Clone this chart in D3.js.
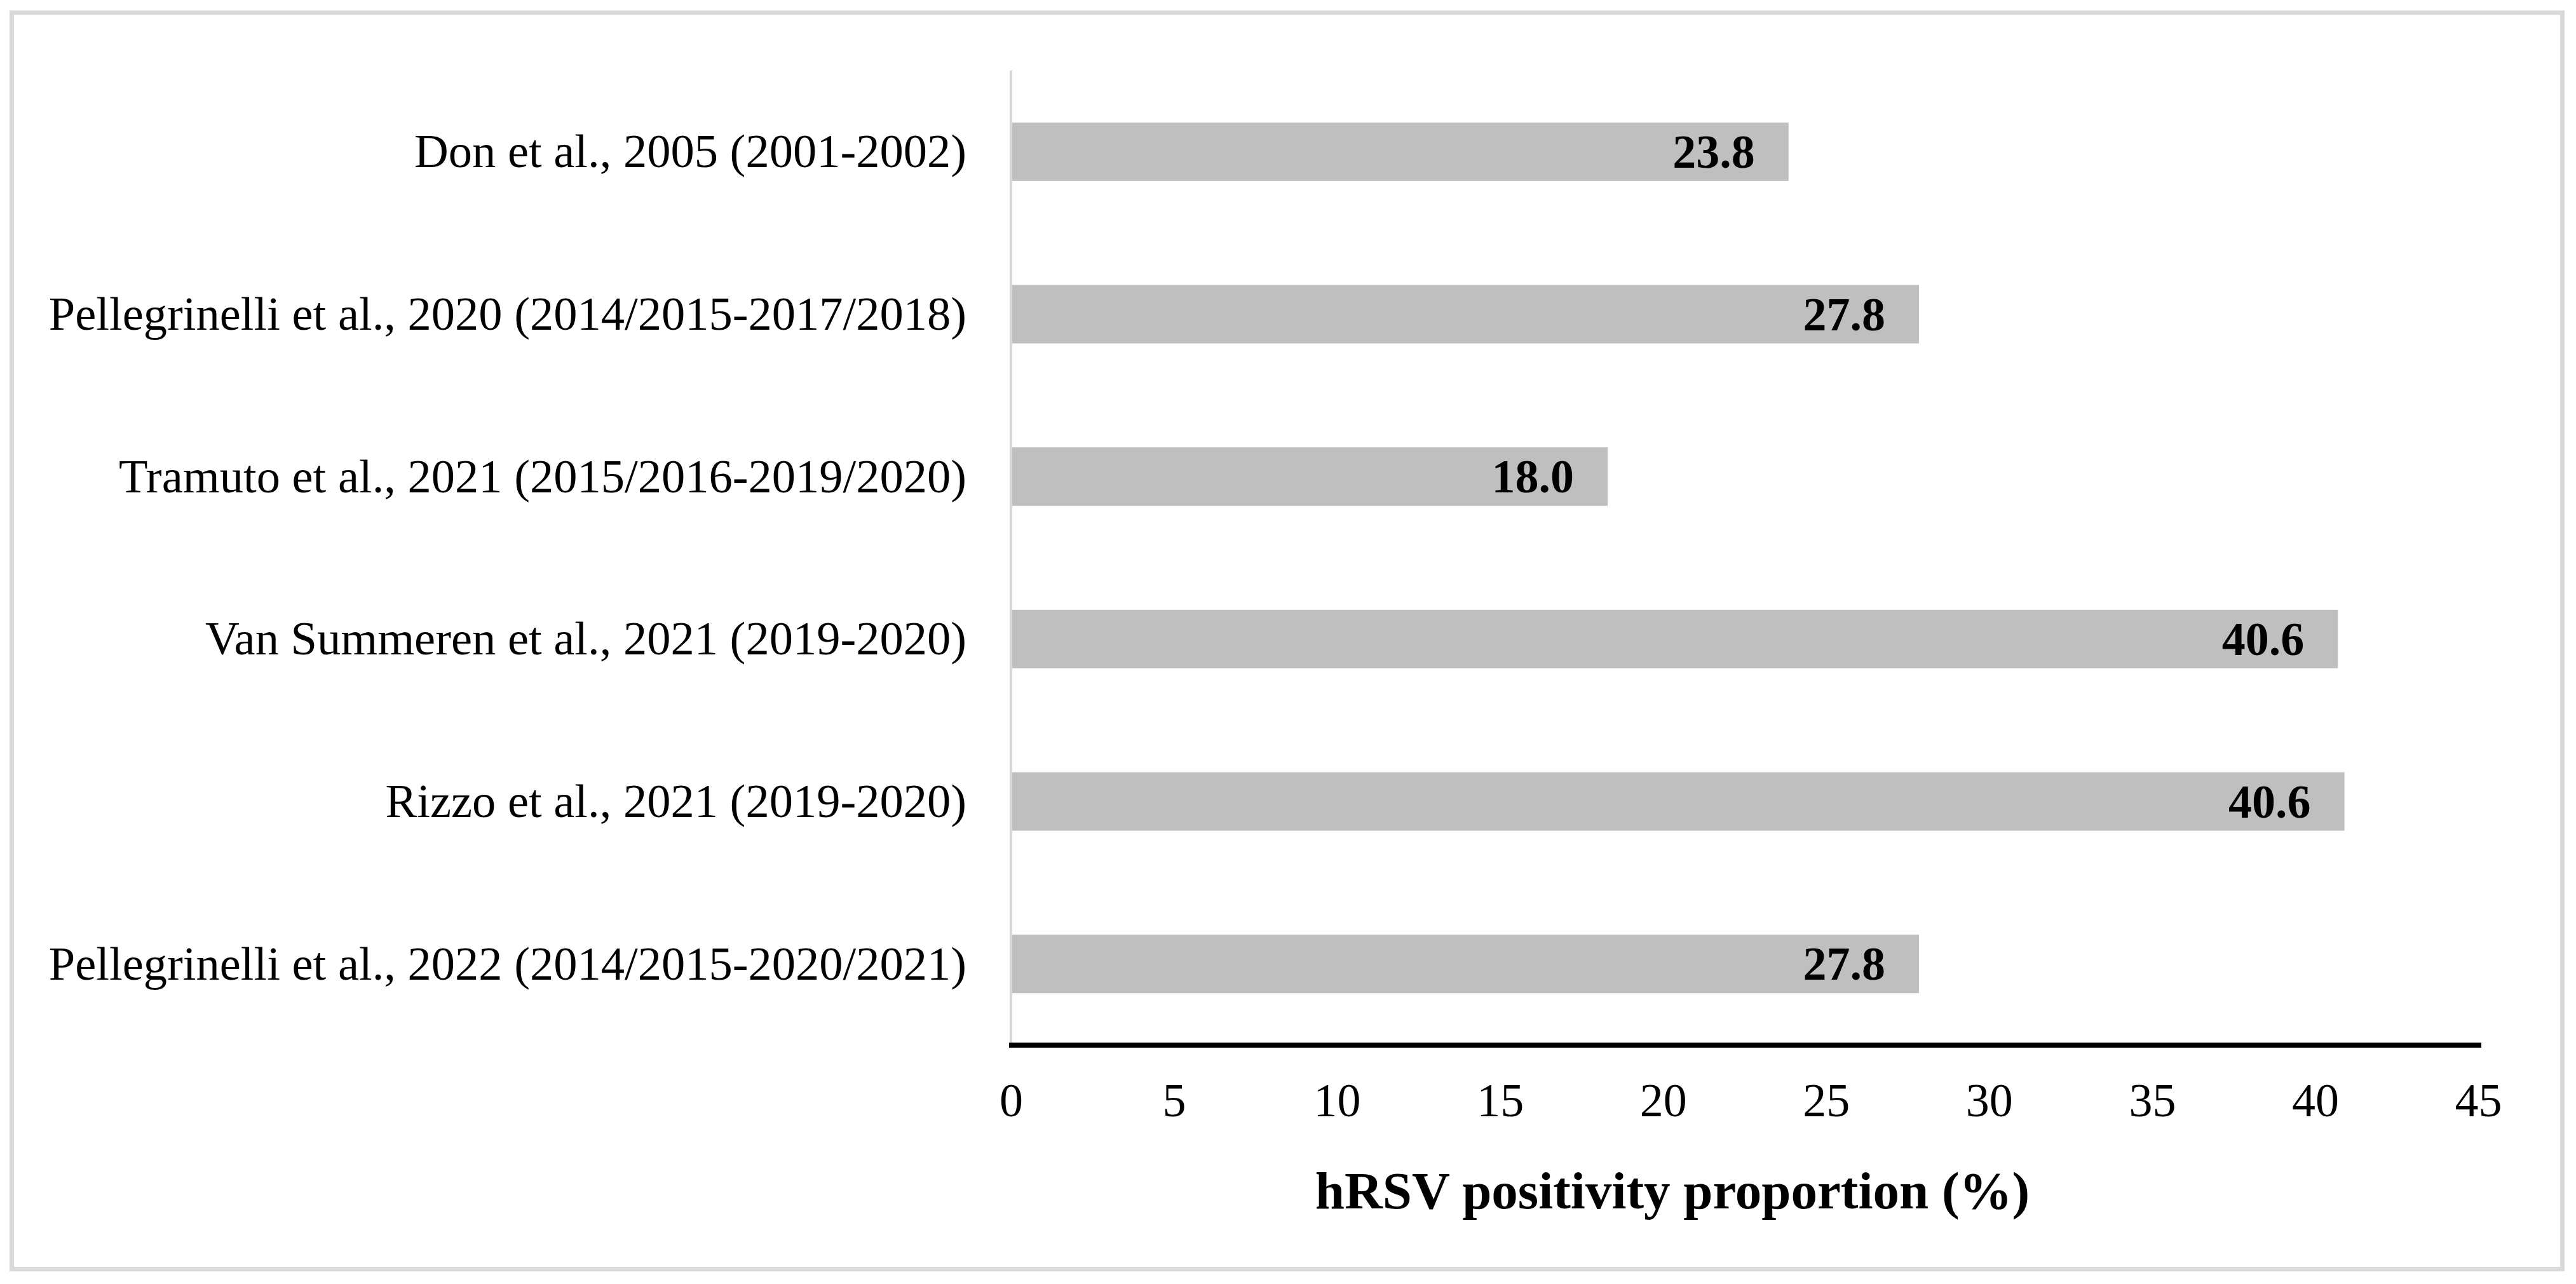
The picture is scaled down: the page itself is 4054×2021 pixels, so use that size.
<!DOCTYPE html>
<html>
<head>
<meta charset="utf-8">
<script src="https://cdn.jsdelivr.net/npm/d3@7"></script>
<style>
  html, body { margin: 0; padding: 0; background: #ffffff; }
  svg { display: block; }
</style>
</head>
<body>
<svg id="chart" width="4054" height="2021"></svg>
<script>
const categories = [
  "Don et al., 2005 (2001-2002)",
  "Pellegrinelli et al., 2020 (2014/2015-2017/2018)",
  "Tramuto et al., 2021 (2015/2016-2019/2020)",
  "Van Summeren et al., 2021 (2019-2020)",
  "Rizzo et al., 2021 (2019-2020)",
  "Pellegrinelli et al., 2022 (2014/2015-2020/2021)"
];
const values = [23.85, 27.85, 18.3, 40.7, 40.9, 27.85];
const valueLabels = ["23.8", "27.8", "18.0", "40.6", "40.6", "27.8"];
const xTicks = [0, 5, 10, 15, 20, 25, 30, 35, 40, 45];
const xTitle = "hRSV positivity proportion (%)";

const svg = d3.select("#chart");
const font = "'Liberation Serif', 'Times New Roman', serif";

// outer border
svg.append("rect")
  .attr("x", 18.5).attr("y", 20)
  .attr("width", 4014).attr("height", 1977.5)
  .attr("fill", "#ffffff")
  .attr("stroke", "#d9d9d9").attr("stroke-width", 7);

const plotLeft = 1591, plotRight = 3900, plotTop = 111, plotBottom = 1645;

const x = d3.scaleLinear().domain([0, 45]).range([plotLeft, plotRight]);
const y = d3.scaleBand().domain(categories).range([plotTop, plotBottom]).paddingInner(0.64).paddingOuter(0.32);

// bars
svg.append("g").selectAll("rect").data(categories).join("rect")
  .attr("x", x(0) + 2)
  .attr("y", d => y(d))
  .attr("width", (d, i) => x(values[i]) - x(0) - 2)
  .attr("height", y.bandwidth())
  .attr("fill", "#bfbfbf");

// y axis line (light gray)
svg.append("line")
  .attr("x1", x(0)).attr("x2", x(0))
  .attr("y1", plotTop).attr("y2", plotBottom)
  .attr("stroke", "#d9d9d9").attr("stroke-width", 4);

// x axis (thick black)
const xAxis = d3.axisBottom(x).tickValues(xTicks).tickSize(0).tickPadding(0).tickFormat(d3.format("d"));
const gx = svg.append("g").attr("transform", `translate(0,${plotBottom})`).call(xAxis);
gx.select(".domain").attr("stroke", "#000").attr("stroke-width", 8).attr("d", `M${x(0) - 3},0H${x(45) + 5}`);
gx.selectAll(".tick text")
  .attr("font-family", font).attr("font-size", 74).attr("fill", "#000")
  .attr("dy", null).attr("y", 112);

// y category labels
const gy = svg.append("g").attr("transform", `translate(${x(0)},0)`)
  .call(d3.axisLeft(y).tickSize(0).tickPadding(70));
gy.select(".domain").remove();
gy.selectAll(".tick text")
  .attr("font-family", font).attr("font-size", 74.5).attr("fill", "#000")
  .attr("dy", "0.33em");

// value labels
svg.append("g").selectAll("text").data(categories).join("text")
  .attr("x", (d, i) => x(values[i]) - 53)
  .attr("y", d => y(d) + y.bandwidth() / 2)
  .attr("dy", "0.34em")
  .attr("text-anchor", "end")
  .attr("font-family", font).attr("font-weight", "bold").attr("font-size", 74)
  .attr("fill", "#000")
  .text((d, i) => valueLabels[i]);

// x axis title
svg.append("text")
  .attr("x", 2632).attr("y", 1902)
  .attr("text-anchor", "middle")
  .attr("font-family", font).attr("font-weight", "bold").attr("font-size", 83)
  .attr("fill", "#000")
  .text(xTitle);
</script>
</body>
</html>
